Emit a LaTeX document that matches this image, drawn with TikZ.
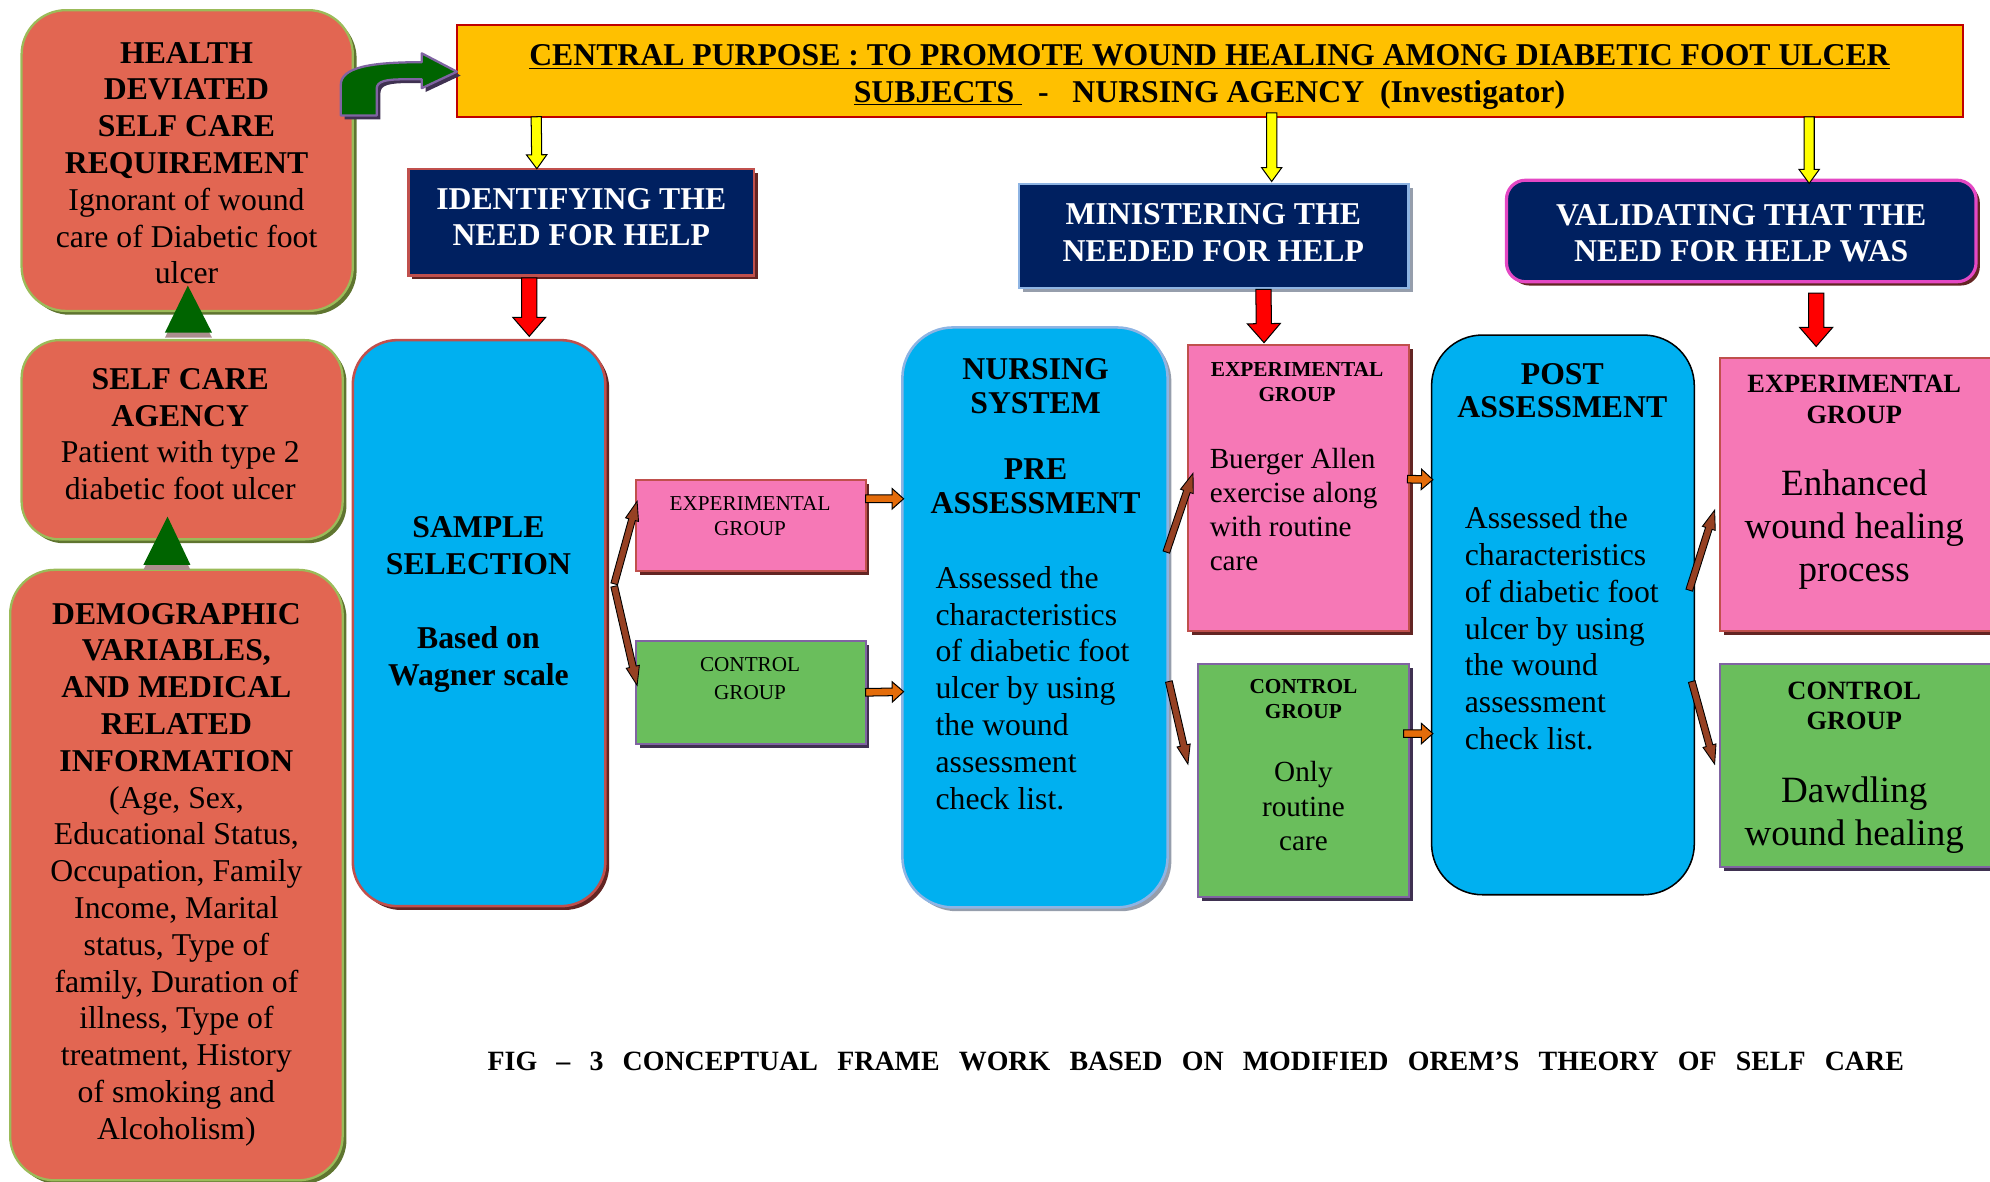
\documentclass[tikz,border=0pt]{standalone}
\usepackage{fontspec}
\setmainfont{Liberation Serif}
\usetikzlibrary{calc,shadows}

\definecolor{salmon}{RGB}{226,102,82}
\definecolor{leafrim}{RGB}{155,187,89}
\definecolor{leafshade}{RGB}{95,117,48}
\definecolor{skyfill}{RGB}{0,176,240}
\definecolor{rosefill}{RGB}{246,120,182}
\definecolor{grassfill}{RGB}{106,190,92}
\definecolor{navyfill}{RGB}{0,32,96}
\definecolor{goldfill}{RGB}{255,192,0}
\definecolor{brickrim}{RGB}{192,80,77}
\definecolor{brickshade}{RGB}{99,37,35}
\definecolor{violetrim}{RGB}{128,100,162}
\definecolor{violetshade}{RGB}{63,49,81}
\definecolor{paleblue}{RGB}{142,180,227}
\definecolor{greyshade}{RGB}{150,158,172}
\definecolor{magentarim}{RGB}{228,72,196}
\definecolor{crimsonrim}{RGB}{192,0,0}
\definecolor{rust}{RGB}{150,65,35}
\definecolor{tangerine}{RGB}{228,108,10}
\definecolor{forest}{RGB}{0,100,0}
\definecolor{signalred}{RGB}{255,0,0}
\definecolor{lemon}{RGB}{255,255,0}
\definecolor{mauveshade}{RGB}{172,142,142}

\newcommand\fsz[2]{\fontsize{#1pt}{#2pt}\selectfont}
\newcommand\bl[1]{\textbf{#1}}

% block arrow: style, from, to, shaft half width, head half width, head length (pt)
\newcommand\blockarrow[6]{%
  \draw[#1] let \p1=#2, \p2=#3,
      \n1={atan2(\y2-\y1,\x2-\x1)},
      \n2={veclen(\x2-\x1,\y2-\y1)},
      \n3={\n2-#6} in
    [shift={(\p1)}, rotate=\n1]
    (0pt,-#4pt) -- ({\n3*1pt},-#4pt) -- ({\n3*1pt},-#5pt) -- ({\n2*1pt},0pt)
    -- ({\n3*1pt},#5pt) -- ({\n3*1pt},#4pt) -- (0pt,#4pt) -- cycle;}

\tikzset{
  panel/.style={anchor=north west, inner sep=0pt, outer sep=0pt},
  castshadow/.style={drop shadow={shadow xshift=3pt, shadow yshift=-3pt, fill=#1, opacity=1}},
  leftpanel/.style={panel, fill=salmon, draw=leafrim, line width=1.8pt,
    rounded corners=#1, castshadow=leafshade},
  navypanel/.style={panel, fill=navyfill, line width=2pt},
  skypanel/.style={panel, fill=skyfill, line width=2pt},
  rosepanel/.style={panel, fill=rosefill, draw=brickrim, line width=1.5pt, castshadow=brickshade},
  grasspanel/.style={panel, fill=grassfill, draw=violetrim, line width=1.5pt, castshadow=violetshade},
  txt/.style={inner sep=0pt, align=center, anchor=north},
  ltxt/.style={inner sep=0pt, align=left, anchor=north west},
  redarrow/.style={fill=signalred, draw=black, line width=0.8pt},
  yellowarrow/.style={fill=lemon, draw=black, line width=0.8pt},
  orangearrow/.style={fill=tangerine, draw=black, line width=0.8pt},
  brownarrow/.style={fill=rust, draw=black, line width=0.7pt},
  pointer/.style={fill=forest, drop shadow={shadow xshift=0pt, shadow yshift=-4pt, fill=mauveshade, opacity=1}}
}

\begin{document}
\begin{tikzpicture}[x=1pt,y=-1pt]
\useasboundingbox (0,0) rectangle (1568,931);

% ---------- left column ----------
\node[leftpanel=35pt, minimum width=261pt, minimum height=237pt] (hdsr) at (17,8) {};
\node[leftpanel=30pt, minimum width=253pt, minimum height=157pt] (sca) at (17,268) {};
\node[leftpanel=35pt, minimum width=262pt, minimum height=481pt] (demo) at (8,449) {};

% ---------- top band ----------
\node[panel, fill=goldfill, draw=crimsonrim, line width=1.5pt,
      minimum width=1187pt, minimum height=72pt] (central) at (360,20) {};
\node[navypanel, draw=brickrim, castshadow=brickshade,
      minimum width=272pt, minimum height=84pt] (ident) at (322,133) {};
\node[navypanel, draw=paleblue, castshadow=greyshade,
      minimum width=307pt, minimum height=82pt] (minist) at (803,145) {};
\node[navypanel, draw=magentarim, line width=2.5pt, rounded corners=15pt, castshadow=brickshade,
      minimum width=370pt, minimum height=80pt] (valid) at (1187,142) {};

% ---------- main stages ----------
\node[skypanel, draw=brickrim, rounded corners=35pt, castshadow=brickshade,
      minimum width=199pt, minimum height=446pt] (sample) at (278,268) {};
\node[skypanel, draw=paleblue, rounded corners=40pt, castshadow=greyshade,
      minimum width=209pt, minimum height=457pt] (nurse) at (711,258) {};
\node[skypanel, draw=black, line width=1.2pt, rounded corners=40pt,
      minimum width=207pt, minimum height=441pt] (post) at (1128,264) {};

% ---------- group boxes ----------
\node[rosepanel, minimum width=181pt, minimum height=72pt] (expa) at (501,378) {};
\node[grasspanel, minimum width=181pt, minimum height=81pt] (cona) at (501,505) {};
\node[rosepanel, minimum width=174pt, minimum height=225pt] (expb) at (936,272) {};
\node[grasspanel, minimum width=166pt, minimum height=184pt] (conb) at (944,523) {};
\node[rosepanel, minimum width=217pt, minimum height=215pt] (expc) at (1355,282) {};
\node[grasspanel, minimum width=217pt, minimum height=160pt] (conc) at (1355,523) {};

% ---------- upward triangles between the left boxes ----------
\path[pointer] ($(sca.north)+(-13.5,-6)$) -- ($(sca.north)+(23.5,-6)$)
   -- ($(hdsr.south)+(0.5,-20)$) -- cycle;
\path[pointer] ($(demo.north)+(-26,-4)$) -- ($(demo.north)+(11,-4)$)
   -- ($(sca.south)+(-11.5,-18)$) -- cycle;

% ---------- bent arrow into the central purpose ----------
\begin{scope}[shift={(central.west)}]
  \draw[fill=forest, draw=violetrim, line width=1.8pt, line join=round,
        drop shadow={shadow xshift=3pt, shadow yshift=-3pt, fill=violetshade, opacity=1}]
    (-91.5,35) -- (-91.5,11) .. controls (-91.5,-3) and (-68,-7) .. (-27.7,-7)
    -- (-27.7,-14) -- (0,0.5) -- (-27.7,13.5) -- (-27.7,6.5) -- (-42,6.5)
    .. controls (-56,6.5) and (-63.2,8) .. (-63.2,14) -- (-63.2,35) -- cycle;
\end{scope}

% ---------- yellow arrows ----------
\blockarrow{yellowarrow}{($(central.south)+(-531,0)$)}{($(ident.north)+(-35,0)$)}{4}{8}{11}
\blockarrow{yellowarrow}{($(central.south)+(48.5,-3)$)}{($(minist.north)+(45.5,-2)$)}{4}{8}{11}
\blockarrow{yellowarrow}{($(central.south)+(472,0)$)}{($(valid.north)+(53.5,2.5)$)}{4}{8}{11}

% ---------- red arrows ----------
\blockarrow{redarrow}{($(ident.south)+(-41,2)$)}{($(sample.north)+(39.5,-3)$)}{6}{13}{15}
\blockarrow{redarrow}{($(minist.south)+(39,1)$)}{($(expb.north)+(-27,-2)$)}{6}{13}{15}
\blockarrow{redarrow}{($(valid.south)+(59,9)$)}{($(expc.north)+(-32.5,-9)$)}{6}{13}{15}

% ---------- brown split arrows ----------
\blockarrow{brownarrow}{($(sample.east)+(7,-31)$)}{($(expa.west)+(1,-19)$)}{2.7}{5.3}{15}
\blockarrow{brownarrow}{($(sample.east)+(7,-29)$)}{($(cona.west)+(1,-5.5)$)}{2.7}{5.3}{15}
\blockarrow{brownarrow}{($(nurse.east)+(-1,-51.5)$)}{($(expb.west)+(4,-11.5)$)}{2.7}{5.3}{15}
\blockarrow{brownarrow}{($(nurse.east)+(1,50.5)$)}{($(conb.west)+(-8,-13)$)}{2.7}{5.3}{15}
\blockarrow{brownarrow}{($(post.east)+(-4,-19.5)$)}{($(expc.west)+(-4,12.5)$)}{2.7}{5.3}{15}
\blockarrow{brownarrow}{($(post.east)+(-2,52.5)$)}{($(conc.west)+(-4,-1)$)}{2.7}{5.3}{15}

% ---------- orange arrows ----------
\blockarrow{orangearrow}{($(expa.east)+(0,-21)$)}{($(nurse.west)+(1,-93.5)$)}{3}{8}{9}
\blockarrow{orangearrow}{($(cona.east)+(0,0)$)}{($(nurse.west)+(1,58.5)$)}{3}{8}{9}
\blockarrow{orangearrow}{($(expb.east)+(-1,-7)$)}{($(post.west)+(1,-106.5)$)}{3}{8}{9}
\blockarrow{orangearrow}{($(conb.east)+(-4,-37)$)}{($(post.west)+(1,93.5)$)}{3}{8}{9}

% ---------- texts ----------
\node[txt, font=\fsz{25}{29}] (hdsrtext) at (147,33)
  {\bl{HEALTH}\\\bl{DEVIATED}\\\bl{SELF CARE}\\\bl{REQUIREMENT}\\Ignorant of wound\\care of Diabetic foot\\ulcer};
\node[txt, font=\fsz{25}{29}] (scatext) at (142,290)
  {\bl{SELF CARE}\\\bl{AGENCY}\\Patient with type 2\\diabetic foot ulcer};
\node[txt, font=\fsz{25}{29}] (demotext) at (139,475)
  {\bl{DEMOGRAPHIC}\\\bl{VARIABLES,}\\\bl{AND MEDICAL}\\\bl{RELATED}\\\bl{INFORMATION}\\(Age, Sex,\\Educational Status,\\Occupation, Family\\Income, Marital\\status, Type of\\family, Duration of\\illness, Type of\\treatment, History\\of smoking and\\Alcoholism)};

\node[txt, font=\bfseries\fsz{25}{29}] (centraltext) at (953,35)
  {\underline{CENTRAL PURPOSE : TO PROMOTE WOUND HEALING AMONG DIABETIC FOOT ULCER}\\
   \underline{SUBJECTS\ }\ \ -\ \ \ NURSING AGENCY\ \ (Investigator)};

\node[txt, text=white, font=\bfseries\fsz{25}{29}] (identtext) at (458,148) {IDENTIFYING THE\\NEED FOR HELP};
\node[txt, text=white, font=\bfseries\fsz{25}{29}] (ministtext) at (956,160) {MINISTERING THE\\NEEDED FOR HELP};
\node[txt, text=white, font=\bfseries\fsz{25}{28}] (validtext) at (1372,161) {VALIDATING THAT THE\\NEED FOR HELP WAS};

\node[txt, font=\bfseries\fsz{25}{29}] (sampletext) at (377,407)
  {SAMPLE\\SELECTION\\[29pt]Based on\\Wagner scale};

\node[txt, font=\bfseries\fsz{25}{27}] (nursehead) at (816,282)
  {NURSING\\SYSTEM\\[25pt]PRE\\ASSESSMENT};
\node[ltxt, font=\fsz{25}{29}] (nursebody) at (737,446)
  {Assessed the\\characteristics\\of diabetic foot\\ulcer by using\\the wound\\assessment\\check list.};

\node[txt, font=\bfseries\fsz{25}{26}] (posthead) at (1231,286) {POST\\ASSESSMENT};
\node[ltxt, font=\fsz{25}{29}] (postbody) at (1154,399)
  {Assessed the\\characteristics\\of diabetic foot\\ulcer by using\\the wound\\assessment\\check list.};

\node[txt, font=\fsz{16.7}{20}] (expatext) at (591,391) {EXPERIMENTAL\\GROUP};
\node[txt, font=\fsz{16.7}{22}] (conatext) at (591,518) {CONTROL\\GROUP};

\node[txt, font=\bfseries\fsz{16.8}{20}] (expbhead) at (1022,285) {EXPERIMENTAL\\GROUP};
\node[ltxt, font=\fsz{23}{26.7}] (expbbody) at (953,353) {Buerger Allen\\exercise along\\with routine\\care};
\node[txt, font=\bfseries\fsz{16.8}{20}] (conbhead) at (1027,535) {CONTROL\\GROUP};
\node[txt, font=\fsz{23}{27}] (conbbody) at (1027,600) {Only\\routine\\care};

\node[txt, font=\bfseries\fsz{20.8}{25}] (expchead) at (1461,295) {EXPERIMENTAL\\GROUP};
\node[txt, font=\fsz{29.2}{34}] (expcbody) at (1461,370) {Enhanced\\wound healing\\process};
\node[txt, font=\bfseries\fsz{20.8}{24}] (conchead) at (1461,537) {CONTROL\\GROUP};
\node[txt, font=\fsz{29.2}{34}] (concbody) at (1461,612) {Dawdling\\wound healing};

% ---------- caption ----------
\node[anchor=west, inner sep=0pt, font=\bfseries\fsz{22}{26}] (caption) at (384,836)
  {\hbox to 1116pt{FIG\hfill–\hfill3\hfill CONCEPTUAL\hfill FRAME\hfill WORK\hfill BASED\hfill ON\hfill MODIFIED\hfill OREM’S\hfill THEORY\hfill OF\hfill SELF\hfill CARE}};
\end{tikzpicture}
\end{document}
